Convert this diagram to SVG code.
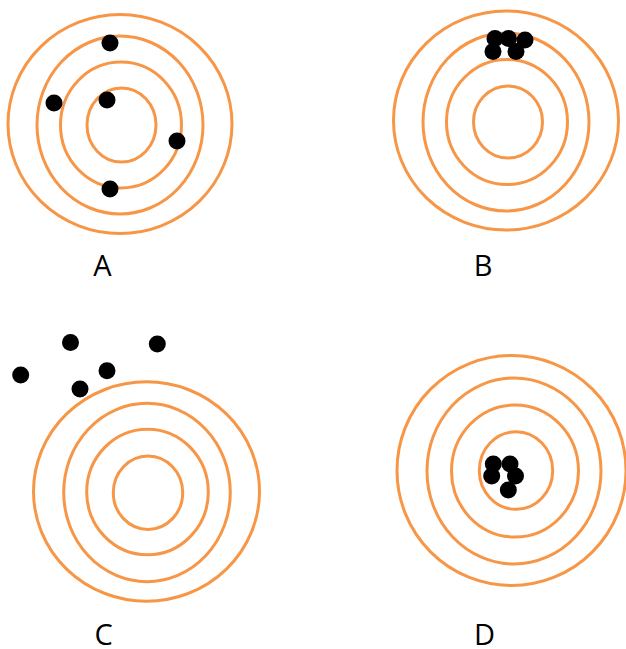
<svg xmlns="http://www.w3.org/2000/svg" width="626" height="649" viewBox="0 0 626 649">
  <style>
    .ring { fill: none; stroke: #F79646; stroke-width: 3; }
    .shot { fill: #000; }
    .label { font-family: "Open Sans", "Noto Sans", sans-serif; font-size: 29px; fill: #000; text-anchor: middle; }
  </style>
  <rect width="626" height="649" fill="#fff"/>

  <!-- Target A: spread out, centred on average -->
  <g id="target-a">
    <ellipse class="ring" cx="120" cy="124" rx="112" ry="109.5"/>
    <ellipse class="ring" cx="120" cy="125" rx="83" ry="89"/>
    <ellipse class="ring" cx="121" cy="125" rx="60.5" ry="63"/>
    <ellipse class="ring" cx="121.5" cy="125" rx="34.5" ry="37"/>
    <circle class="shot" cx="110" cy="43" r="8.5"/>
    <circle class="shot" cx="54" cy="103" r="8.5"/>
    <circle class="shot" cx="107" cy="100" r="8.5"/>
    <circle class="shot" cx="177" cy="141" r="8.5"/>
    <circle class="shot" cx="110" cy="189" r="8.5"/>
    <text class="label" x="102.5" y="275.5">A</text>
  </g>

  <!-- Target B: tight cluster, off centre -->
  <g id="target-b">
    <ellipse class="ring" cx="506" cy="120.5" rx="112.5" ry="109.5"/>
    <ellipse class="ring" cx="506" cy="122" rx="83" ry="89"/>
    <ellipse class="ring" cx="507" cy="122" rx="60.5" ry="62.5"/>
    <ellipse class="ring" cx="508" cy="122" rx="34.5" ry="36"/>
    <circle class="shot" cx="495" cy="38.5" r="8.5"/>
    <circle class="shot" cx="508.5" cy="38.5" r="8.5"/>
    <circle class="shot" cx="525" cy="40" r="8.5"/>
    <circle class="shot" cx="493" cy="51.5" r="8.5"/>
    <circle class="shot" cx="516" cy="51.5" r="8.5"/>
    <text class="label" x="483" y="275.5">B</text>
  </g>

  <!-- Target C: scattered, all outside -->
  <g id="target-c">
    <ellipse class="ring" cx="146.5" cy="491.5" rx="113" ry="109.7"/>
    <ellipse class="ring" cx="147" cy="492.5" rx="83.3" ry="89.2"/>
    <ellipse class="ring" cx="147.5" cy="492" rx="60.8" ry="62.8"/>
    <ellipse class="ring" cx="148" cy="492.7" rx="34.7" ry="36.7"/>
    <circle class="shot" cx="70.5" cy="342.5" r="8.5"/>
    <circle class="shot" cx="157.3" cy="344" r="8.5"/>
    <circle class="shot" cx="20.7" cy="375" r="8.5"/>
    <circle class="shot" cx="107" cy="370.7" r="8.5"/>
    <circle class="shot" cx="80" cy="389" r="8.5"/>
    <text class="label" x="103.7" y="645">C</text>
  </g>

  <!-- Target D: tight cluster in the bullseye -->
  <g id="target-d">
    <ellipse class="ring" cx="511.5" cy="470.5" rx="114.5" ry="115"/>
    <ellipse class="ring" cx="514" cy="471" rx="87" ry="93"/>
    <ellipse class="ring" cx="515" cy="471" rx="63.5" ry="66"/>
    <ellipse class="ring" cx="516" cy="470.5" rx="36.7" ry="38.8"/>
    <circle class="shot" cx="493.3" cy="464" r="8.5"/>
    <circle class="shot" cx="510" cy="464" r="8.5"/>
    <circle class="shot" cx="491.7" cy="476" r="8.5"/>
    <circle class="shot" cx="515.5" cy="476" r="8.5"/>
    <circle class="shot" cx="508.3" cy="490" r="8.5"/>
    <text class="label" x="484.5" y="645">D</text>
  </g>
</svg>
